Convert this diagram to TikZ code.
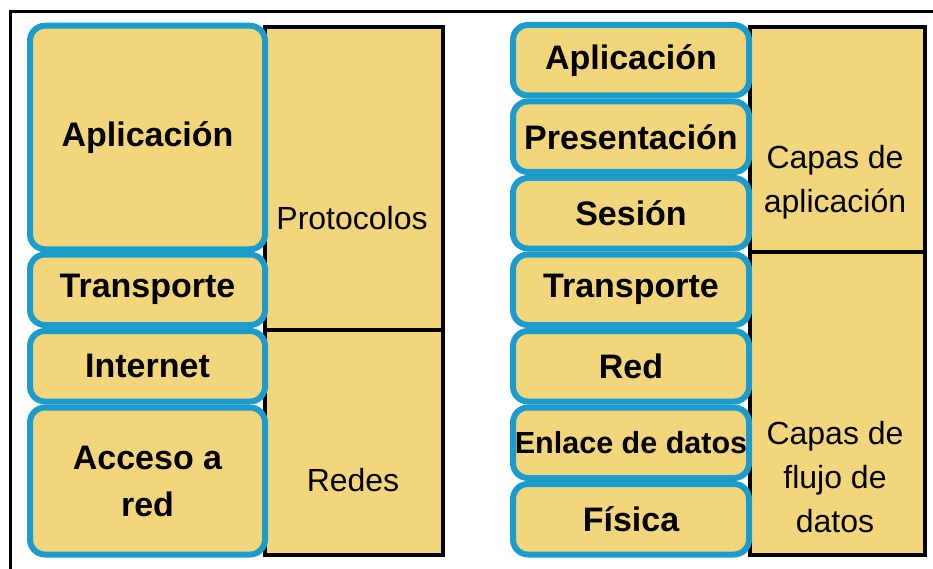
\documentclass[tikz,border=0pt]{standalone}
\usepackage{fontspec}
\setmainfont{Liberation Sans}
\definecolor{layerfill}{RGB}{243,214,123}
\definecolor{layerblue}{RGB}{28,155,205}
\begin{document}
\begin{tikzpicture}[x=1pt,y=-1pt,
    layer/.style={draw=layerblue,line width=6pt,rounded corners=15pt,fill=layerfill,
      inner sep=0pt,align=center,font=\fontsize{34}{47}\selectfont\bfseries},
    group/.style={draw=black,line width=4pt,fill=layerfill,inner sep=0pt},
    grouplabel/.style={align=center,font=\fontsize{32}{44}\selectfont}]
      \useasboundingbox (0,0) rectangle (933,569);
      % Frame
      \draw[line width=3pt] (10.5,569) -- (10.5,11.5) -- (933,11.5);
      % TCP/IP: Groups
      \node[group,minimum width=178pt,minimum height=303pt] (protocolos) at (354,178.5) {};
      \node[group,minimum width=178pt,minimum height=225pt] (redes) at (354,442.5) {};
      \node[grouplabel] (protocoloslabel) at (352,218) {Protocolos};
      \node[grouplabel] (redeslabel) at (353,480) {Redes};
      % TCP/IP: Layers
      \node[layer,minimum width=235pt,minimum height=223.5pt] (tcpapp) at (147.5,137.5) {Aplicación};
      \node[layer,minimum width=235pt,minimum height=70.5pt] (tcptrans) at (147.5,289.75) {Transporte};
      \node[layer,minimum width=235pt,minimum height=70.5pt] (tcpinet) at (147.5,366.25) {Internet};
      \node[layer,minimum width=235pt,minimum height=147pt] (tcpacceso) at (147.5,481) {Acceso a\\red};
      % OSI: Groups
      \node[group,minimum width=175pt,minimum height=225pt] (capasapp) at (837.5,139.5) {};
      \node[group,minimum width=175pt,minimum height=303pt] (capasflujo) at (837.5,403.5) {};
      \node[grouplabel] (capasapplabel) at (835,182) {Capas de\\aplicación};
      \node[grouplabel] (capasflujolabel) at (835,477) {Capas de\\flujo de\\datos};
      % OSI: Layers
      \node[layer,minimum width=236pt,minimum height=70.5pt] (osiapp) at (631,60.25) {Aplicación};
      \node[layer,minimum width=236pt,minimum height=70.5pt] (osipres) at (631,136.75) {Presentación};
      \node[layer,minimum width=236pt,minimum height=70.5pt] (osisesion) at (631,213.25) {Sesión};
      \node[layer,minimum width=236pt,minimum height=70.5pt] (ositrans) at (631,289.75) {Transporte};
      \node[layer,minimum width=236pt,minimum height=70.5pt] (osired) at (631,366.25) {Red};
      \node[layer,minimum width=236pt,minimum height=70.5pt,font=\fontsize{30.5}{40}\selectfont\bfseries] (osienlace) at (631,442.75) {Enlace de datos};
      \node[layer,minimum width=236pt,minimum height=70.5pt] (osifisica) at (631,519.25) {Física};
\end{tikzpicture}
\end{document}
